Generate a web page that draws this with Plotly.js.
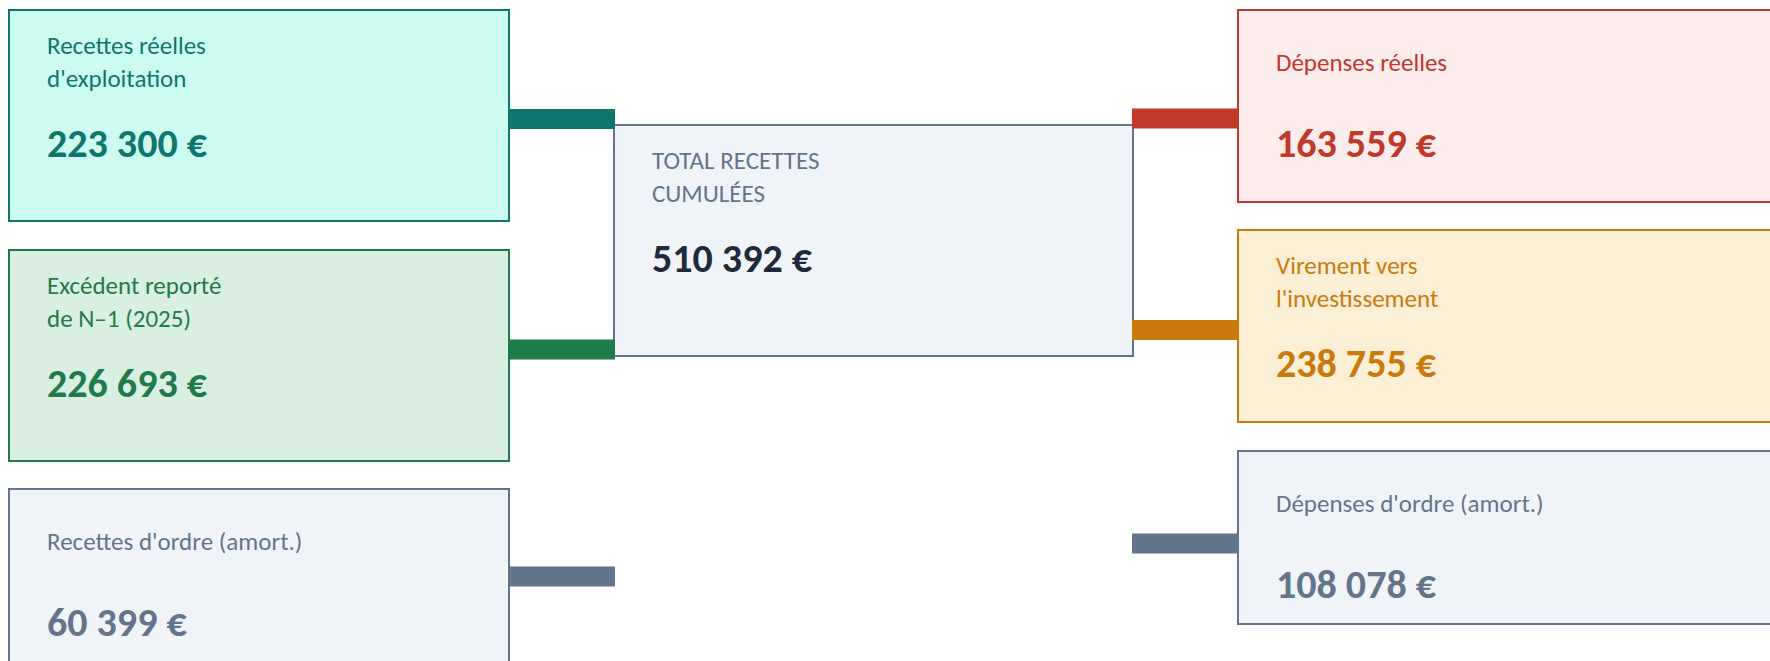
<!DOCTYPE html>
<html>
<head>
<meta charset="utf-8">
<script src="https://cdn.plot.ly/plotly-3.0.1.min.js"></script>
<style>
html,body{margin:0;padding:0;background:#ffffff;}
#chart{width:1770px;height:661px;}
</style>
</head>
<body>
<div id="chart"></div>
<script>
// ---------- DATA ----------
const leftLabels = ["Recettes réelles<br>d'exploitation", "Excédent reporté<br>de N–1 (2025)", "Recettes d'ordre (amort.)"];
const leftValues = [223300, 226693, 60399];
const rightLabels = ["Dépenses réelles", "Virement vers<br>l'investissement", "Dépenses d'ordre (amort.)"];
const rightValues = [163559, 238755, 108078];
const centreLabel = "TOTAL RECETTES<br>CUMULÉES";
const centreValues = [510392];

// ---------- STYLE ----------
const leftStroke = ["#0F766E", "#1F7A4C", "#64748B"];
const leftFill   = ["#CCFBF1", "#D8EFE2", "#F0F4F9"];
const rightStroke = ["#C0392B", "#CA7A0C", "#64748B"];
const rightFill   = ["#FDECEC", "#FDEFD6", "#F0F4F9"];
const centreStroke = "#64748B", centreFill = "#F0F4F9", centreValueColor = "#1E293B";
const FONT = "Carlito, Calibri, Lato, sans-serif";

// ---------- GEOMETRY (plot units = px) ----------
const leftBox = {x0: 9, x1: 509, tops: [10, 250, 489], h: 211};
const leftConn = {x0: 509, x1: 615, ys: [119, 349.5, 576.5], t: 20};
const centreBox = {x0: 614, x1: 1133, y0: 125, y1: 356};
const rightBox = {x0: 1238, x1: 1775, tops: [10, 230, 451], bottoms: [202, 422, 624]};
const rightConn = {x0: 1132, x1: 1238, ys: [118.5, 330, 543.5], t: 20};
const textPad = 36, labelDy = 52, valueDy = 133;

function fmt(v){ return v.toString().replace(/\B(?=(\d{3})+(?!\d))/g, " ") + " €"; }

const shapes = [];
const annotations = [];

function box(x0,x1,y0,y1,fill,stroke){
  shapes.push({type:"rect", xref:"x", yref:"y", x0:x0, x1:x1, y0:y0, y1:y1,
    fillcolor:fill, line:{color:stroke, width:2}, layer:"above"});
}
function conn(x0,x1,yc,t,color){
  shapes.push({type:"rect", xref:"x", yref:"y", x0:x0, x1:x1, y0:yc-t/2, y1:yc+t/2,
    fillcolor:color, line:{width:0}, layer:"above"});
}
function texts(x, top, label, value, labelColor, valueColor){
  annotations.push({xref:"x", yref:"y", x:x, y:top+labelDy, text:label, showarrow:false,
    xanchor:"left", yanchor:"middle", align:"left",
    font:{family:FONT, size:25, color:labelColor}});
  annotations.push({xref:"x", yref:"y", x:x, y:top+valueDy, text:"<b>"+fmt(value)+"</b>", showarrow:false,
    xanchor:"left", yanchor:"middle", align:"left",
    font:{family:FONT, size:40, color:valueColor}});
}

// left boxes
leftValues.forEach((v,i)=>{
  box(leftBox.x0, leftBox.x1, leftBox.tops[i], leftBox.tops[i]+leftBox.h, leftFill[i], leftStroke[i]);
  texts(leftBox.x0+textPad, leftBox.tops[i], leftLabels[i], v, leftStroke[i], leftStroke[i]);
});
// right boxes
rightValues.forEach((v,i)=>{
  box(rightBox.x0, rightBox.x1, rightBox.tops[i], rightBox.bottoms[i], rightFill[i], rightStroke[i]);
  texts(rightBox.x0+textPad, rightBox.tops[i], rightLabels[i], v, rightStroke[i], rightStroke[i]);
});
// centre
box(centreBox.x0, centreBox.x1, centreBox.y0, centreBox.y1, centreFill, centreStroke);
texts(centreBox.x0+textPad, centreBox.y0, centreLabel, centreValues[0], centreStroke, centreValueColor);
// connectors
leftValues.forEach((v,i)=> conn(leftConn.x0, leftConn.x1, leftConn.ys[i], leftConn.t, leftStroke[i]));
rightValues.forEach((v,i)=> conn(rightConn.x0, rightConn.x1, rightConn.ys[i], rightConn.t, rightStroke[i]));

const layout = {
  width:1770, height:661,
  margin:{l:0,r:0,t:0,b:0},
  paper_bgcolor:"#ffffff", plot_bgcolor:"#ffffff",
  showlegend:false,
  xaxis:{range:[0,1770], visible:false, fixedrange:true},
  yaxis:{range:[661,0], visible:false, fixedrange:true},
  shapes:shapes, annotations:annotations
};
Plotly.newPlot("chart", [{type:"scatter", x:[], y:[], hoverinfo:"skip"}], layout, {displayModeBar:false, staticPlot:true});
</script>
</body>
</html>
